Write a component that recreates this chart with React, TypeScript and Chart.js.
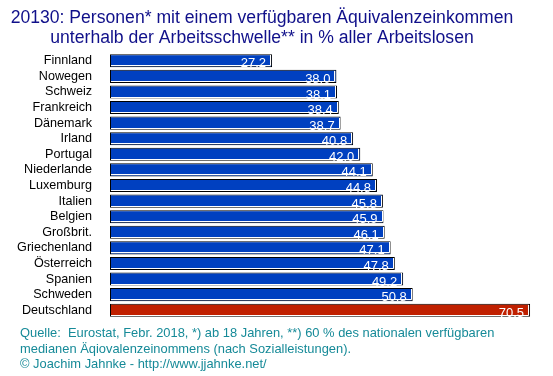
import React, { useEffect, useRef } from "react";
import { Chart, registerables } from "chart.js";

Chart.register(...registerables);

const countries = [
  "Finnland", "Nowegen", "Schweiz", "Frankreich", "Dänemark", "Irland", "Portugal",
  "Niederlande", "Luxemburg", "Italien", "Belgien", "Großbrit.", "Griechenland",
  "Österreich", "Spanien", "Schweden", "Deutschland",
];
const values = [27.2, 38.0, 38.1, 38.4, 38.7, 40.8, 42.0, 44.1, 44.8, 45.8, 45.9, 46.1, 47.1, 47.8, 49.2, 50.8, 70.5];
const highlight = "Deutschland";

const titleLines = [
  "20130: Personen* mit einem verfügbaren Äquivalenzeinkommen",
  "unterhalb der Arbeitsschwelle** in % aller Arbeitslosen",
];
const footerLines = [
  "Quelle:  Eurostat, Febr. 2018, *) ab 18 Jahren, **) 60 % des nationalen verfügbaren",
  "medianen Äqiovalenzeinommens (nach Sozialleistungen).",
  "© Joachim Jahnke - http://www.jjahnke.net/",
];

const FONT = "'Liberation Sans', Arial, sans-serif";
const BLUE = "#0040c0";
const RED = "#c02000";

export default function App() {
  const ref = useRef<HTMLCanvasElement | null>(null);
  useEffect(() => {
    document.body.style.margin = "0";
    const canvas = ref.current!;
    const textPlugin = {
      id: "texts",
      afterDatasetsDraw(chart: any) {
        const ctx = chart.ctx;
        const meta = chart.getDatasetMeta(0);
        ctx.save();
        meta.data.forEach((bar: any, i: number) => {
          const { x, y, base, height } = bar.getProps(["x", "y", "base", "height"], true);
          const top = y - height / 2;
          const bottom = y + height / 2;
          ctx.strokeStyle = "#ffffff";
          ctx.lineWidth = 1;
          ctx.beginPath();
          ctx.moveTo(Math.round(base) + 1, Math.round(bottom) - 1.5);
          ctx.lineTo(Math.round(x) - 1.5, Math.round(bottom) - 1.5);
          ctx.lineTo(Math.round(x) - 1.5, Math.round(top) + 1);
          ctx.stroke();
          ctx.fillStyle = "#ffffff";
          ctx.font = `13px ${FONT}`;
          ctx.textAlign = "right";
          ctx.textBaseline = "middle";
          ctx.fillText(values[i].toFixed(1), x - 6, y + 3);
        });
        ctx.restore();
      },
      afterDraw(chart: any) {
        const ctx = chart.ctx;
        ctx.save();
        ctx.fillStyle = "#10108a";
        ctx.font = `17.6px ${FONT}`;
        ctx.textAlign = "center";
        ctx.textBaseline = "middle";
        ctx.fillText(titleLines[0], 262, 18.5);
        ctx.fillText(titleLines[1], 262, 38.5);
        ctx.fillStyle = "#168a98";
        ctx.font = `12.9px ${FONT}`;
        ctx.textAlign = "left";
        ctx.fillText(footerLines[0], 20, 333);
        ctx.fillText(footerLines[1], 20, 349);
        ctx.fillText(footerLines[2], 20, 364);
        ctx.restore();
      },
    };
    const chart = new Chart(canvas, {
      type: "bar",
      data: {
        labels: countries,
        datasets: [
          {
            data: values,
            backgroundColor: countries.map((c) => (c === highlight ? RED : BLUE)),
            borderColor: "#000000",
            borderWidth: 1,
            borderSkipped: false,
            categoryPercentage: 1,
            barPercentage: 0.84,
          },
        ],
      },
      options: {
        indexAxis: "y",
        animation: false,
        responsive: false,
        maintainAspectRatio: false,
        layout: { padding: { top: 53, bottom: 58, left: 0, right: 8 } },
        plugins: { legend: { display: false }, title: { display: false }, tooltip: { enabled: false } },
        scales: {
          x: { display: false, min: 0, max: 73 },
          y: {
            grid: { display: false },
            border: { display: false },
            ticks: { color: "#000000", font: { family: FONT, size: 12.6 }, padding: 10, autoSkip: false },
            afterFit(scale: any) {
              scale.width = 110;
            },
          },
        },
      },
      plugins: [textPlugin],
    });
    return () => chart.destroy();
  }, []);
  return (
    <div style={{ width: 553, height: 376 }}>
      <canvas ref={ref} width={553} height={376} style={{ display: "block" }} />
    </div>
  );
}
